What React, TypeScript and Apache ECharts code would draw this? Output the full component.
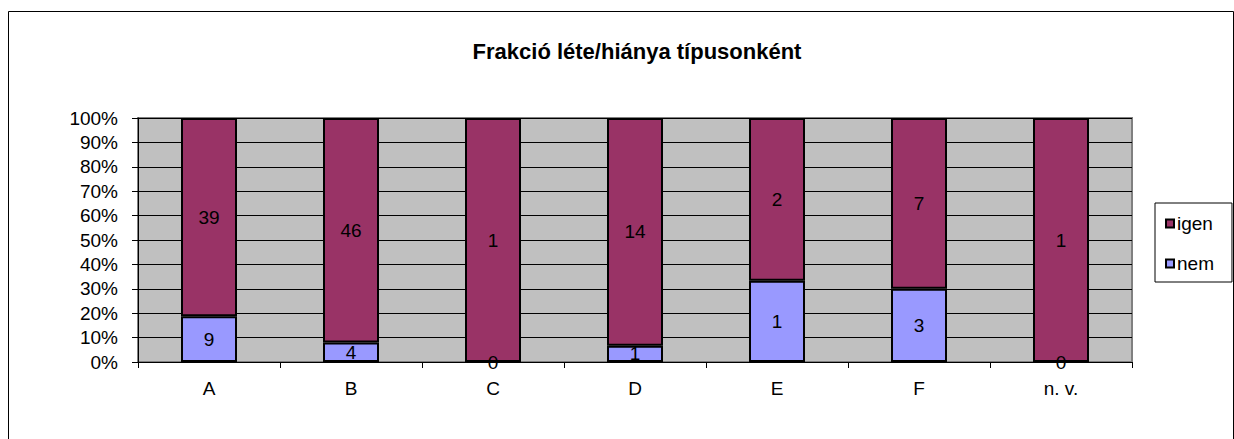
import React, { useEffect, useRef } from "react";
import * as echarts from "echarts";

const categories = ["A", "B", "C", "D", "E", "F", "n. v."];
const igenValues = [39, 46, 1, 14, 2, 7, 1];
const nemValues = [9, 4, 0, 1, 1, 3, 0];
const yTickValues = [0, 10, 20, 30, 40, 50, 60, 70, 80, 90, 100];
const titleText = "Frakció léte/hiánya típusonként";

const FONT = "'Liberation Sans', Arial, sans-serif";

export default function App() {
  const ref = useRef<HTMLDivElement>(null);
  useEffect(() => {
    if (!ref.current) return;
    const chart = echarts.init(ref.current, undefined, { renderer: "svg" });
    const totals = categories.map((_, i) => igenValues[i] + nemValues[i]);
    const toItems = (arr: number[]) =>
      arr.map((v, i) => ({ value: (v / totals[i]) * 100, raw: v }));
    const labelCfg = {
      show: true,
      position: "inside" as const,
      color: "#000",
      fontSize: 19,
      fontFamily: FONT,
      formatter: (p: any) => String(p.data.raw),
    };
    chart.setOption({
      animation: false,
      backgroundColor: "#fff",
      title: {
        text: titleText,
        left: 632,
        top: 35,
        textAlign: "center",
        textStyle: { fontFamily: FONT, fontSize: 22, fontWeight: "bold", color: "#000" },
      },
      graphic: [
        {
          type: "rect",
          shape: { x: 8.5, y: 11.5, width: 1225, height: 440 },
          style: { fill: "none", stroke: "#000", lineWidth: 1 },
          silent: true,
          z: 0,
        },
      ],
      legend: {
        orient: "vertical",
        left: 1155,
        top: 203,
        data: ["igen", "nem"],
        itemWidth: 8,
        itemHeight: 8,
        itemGap: 21,
        padding: [11, 18, 9, 10],
        borderColor: "#000",
        borderWidth: 1,
        backgroundColor: "#fff",
        icon: "rect",
        itemStyle: { borderColor: "#000", borderWidth: 2 },
        textStyle: { fontFamily: FONT, fontSize: 19, color: "#000", padding: [0, 0, 0, -2] },
      },
      grid: {
        left: 138,
        top: 118,
        width: 994,
        height: 244,
        show: true,
        backgroundColor: "#C0C0C0",
        borderColor: "#808080",
        borderWidth: 2,
        containLabel: false,
      },
      xAxis: {
        type: "category",
        data: categories,
        boundaryGap: true,
        axisLine: { show: true, lineStyle: { color: "#000", width: 1 } },
        axisTick: { show: true, alignWithLabel: false, length: 6, lineStyle: { color: "#000" } },
        axisLabel: { margin: 17, fontFamily: FONT, fontSize: 19, color: "#000" },
        splitLine: { show: false },
      },
      yAxis: {
        type: "value",
        min: yTickValues[0],
        max: yTickValues[yTickValues.length - 1],
        interval: yTickValues[1] - yTickValues[0],
        axisLine: { show: true, lineStyle: { color: "#000", width: 1 } },
        axisTick: { show: true, length: 6, lineStyle: { color: "#000" } },
        axisLabel: {
          margin: 20,
          fontFamily: FONT,
          fontSize: 19,
          color: "#000",
          formatter: (v: number) => `${v}%`,
        },
        splitLine: { show: true, lineStyle: { color: "#000", width: 1 } },
      },
      series: [
        {
          name: "nem",
          type: "bar",
          stack: "total",
          barWidth: 56,
          data: toItems(nemValues),
          itemStyle: { color: "#9999FF", borderColor: "#000", borderWidth: 2 },
          label: labelCfg,
        },
        {
          name: "igen",
          type: "bar",
          stack: "total",
          barWidth: 56,
          data: toItems(igenValues),
          itemStyle: { color: "#993366", borderColor: "#000", borderWidth: 2 },
          label: labelCfg,
        },
      ],
    });
    return () => chart.dispose();
  }, []);
  return (
    <div
      ref={ref}
      style={{ position: "fixed", left: 0, top: 0, width: 1234, height: 439 }}
    />
  );
}
